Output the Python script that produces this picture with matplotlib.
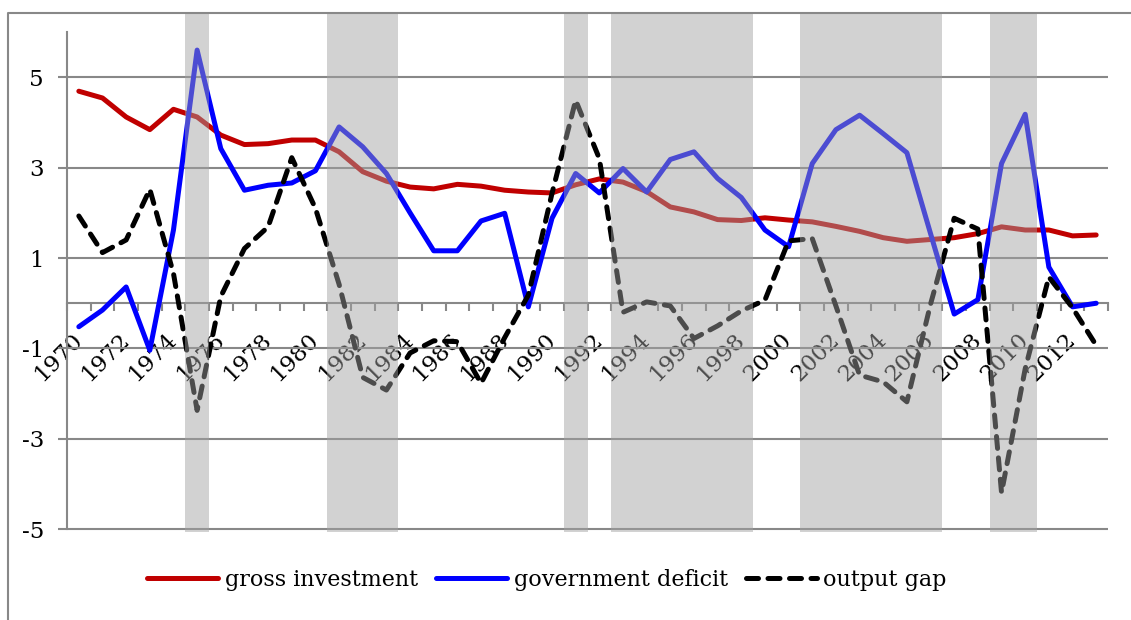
import numpy as np
import matplotlib
matplotlib.use('Agg')
import matplotlib.pyplot as plt
from matplotlib.lines import Line2D

plt.rcParams['font.family'] = ['DejaVu Serif']
plt.rcParams['axes.unicode_minus'] = False

years = list(range(1970, 2014))
gross_investment = [4.69, 4.54, 4.12, 3.84, 4.29, 4.12, 3.72, 3.51, 3.53, 3.61,
                    3.61, 3.35, 2.91, 2.70, 2.57, 2.53, 2.63, 2.59, 2.50, 2.46,
                    2.44, 2.62, 2.75, 2.68, 2.47, 2.13, 2.02, 1.85, 1.83, 1.89,
                    1.84, 1.80, 1.70, 1.59, 1.45, 1.37, 1.41, 1.45, 1.54, 1.69,
                    1.62, 1.62, 1.49, 1.51]
government_deficit = [-0.52, -0.15, 0.36, -1.04, 1.62, 5.60, 3.42, 2.50, 2.61, 2.66,
                      2.93, 3.90, 3.46, 2.87, 2.00, 1.16, 1.16, 1.82, 1.99, -0.08,
                      1.88, 2.87, 2.44, 2.98, 2.46, 3.18, 3.35, 2.76, 2.34, 1.62,
                      1.25, 3.09, 3.84, 4.16, 3.75, 3.33, 1.54, -0.24, 0.08, 3.09,
                      4.18, 0.80, -0.08, 0.00]
output_gap = [1.93, 1.12, 1.40, 2.52, 0.66, -2.37, 0.15, 1.21, 1.69, 3.22,
              2.10, 0.42, -1.64, -1.92, -1.10, -0.83, -0.85, -1.77, -0.76, 0.18,
              2.43, 4.49, 3.20, -0.20, 0.03, -0.06, -0.78, -0.50, -0.17, 0.07,
              1.38, 1.43, -0.06, -1.59, -1.74, -2.18, -0.02, 1.88, 1.64, -4.19,
              -1.45, 0.58, -0.10, -0.93]
# shaded periods (first year, last year)
recessions = [(1975, 1975), (1981, 1983), (1991, 1991), (1993, 1998),
              (2001, 2006), (2009, 2010)]
y_ticks = [-5, -3, -1, 1, 3, 5]

W, H = 1131, 620
fig = plt.figure(figsize=(W / 100, H / 100), dpi=100)
ax = fig.add_axes([67 / W, 1 - 532 / H, (1108 - 67) / W, (532 - 13) / H])

x = np.arange(len(years))
lw = 3.6
l1, = ax.plot(x, gross_investment, color='#c00000', lw=lw,
              solid_joinstyle='round', solid_capstyle='round', zorder=3)
l2, = ax.plot(x, government_deficit, color='#0000ff', lw=lw,
              solid_joinstyle='round', solid_capstyle='round', zorder=4)
l3, = ax.plot(x, output_gap, color='black', lw=lw, dashes=(2.4, 1.9),
              dash_capstyle='round', dash_joinstyle='round', zorder=5)

for a, b in recessions:
    ax.axvspan(years.index(a) - 0.5, years.index(b) + 0.5, color='#a2a2a2',
               alpha=0.475, lw=0, zorder=6)

ax.set_xlim(-0.5, len(years) - 0.5)
ax.set_ylim(-5.06, 6.42)

grey = '#888888'
for s in ('top', 'right'):
    ax.spines[s].set_visible(False)
ax.spines['left'].set_bounds(-5, 6)
ax.spines['left'].set_color(grey)
ax.spines['left'].set_linewidth(1.5)
ax.spines['bottom'].set_position(('data', 0))
ax.spines['bottom'].set_color(grey)
ax.spines['bottom'].set_linewidth(1.5)

ax.set_yticks(y_ticks)
ax.set_yticklabels([str(v) for v in y_ticks])
ax.yaxis.grid(True, color=grey, lw=1.5)
ax.tick_params(axis='y', direction='out', length=6.5, width=1.5, color=grey,
               pad=10, labelsize=16.5)

ax.set_xticks(x[::2])
ax.set_xticklabels([str(y) for y in years[::2]])
ax.set_xticks(np.arange(-0.5, len(years), 1), minor=True)
ax.tick_params(axis='x', which='major', length=0, pad=24, labelsize=16.5)
ax.tick_params(axis='x', which='minor', direction='out', length=6, width=1.5, color=grey)
for lbl in ax.get_xticklabels():
    lbl.set_rotation(45)
    lbl.set_ha('right')
    lbl.set_va('center')
    lbl.set_rotation_mode('anchor')

# chart frame (left and top edges visible)
fig.add_artist(Line2D([8 / W, 8 / W, 1], [0, 1 - 12.7 / H, 1 - 12.7 / H],
                      transform=fig.transFigure, color=grey, lw=1.5))

fig.legend([l1, l2, l3], ['gross investment', 'government deficit', 'output gap'],
           loc='center', bbox_to_anchor=(547 / W, 1 - 580 / H), ncol=3,
           frameon=False, fontsize=16, handlelength=3.2, handletextpad=0.3,
           columnspacing=0.8)

fig.savefig('out.png', dpi=100)
